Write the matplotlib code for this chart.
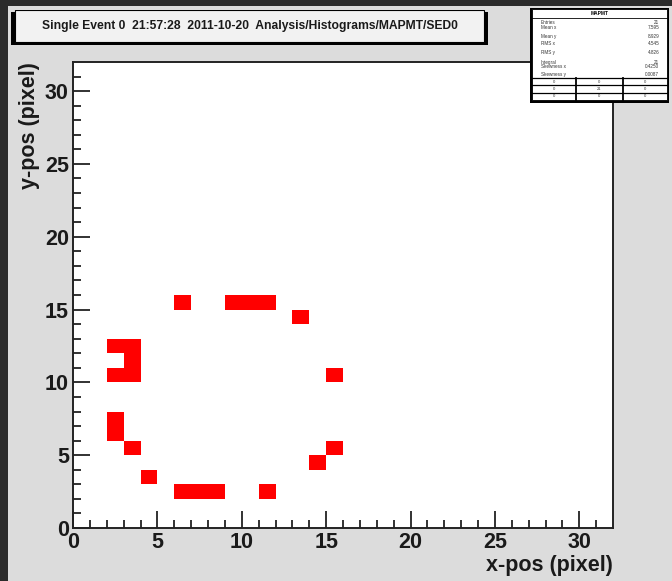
## single event display - MAPMT hit map, ROOT-like canvas

import numpy as np
import matplotlib
matplotlib.use('Agg')
import matplotlib.pyplot as plt
from matplotlib.colors import ListedColormap
from matplotlib.patches import Rectangle

plt.rcParams['font.family'] = ['Liberation Sans', 'DejaVu Sans']

W, H = 672, 581

## hit pixels (bin index x, bin index y)
hit_x = [6, 9, 10, 11, 13, 2, 3, 3, 2, 3, 15, 2, 2, 3, 4, 6, 7, 8, 11, 14, 15]
hit_y = [15, 15, 15, 15, 14, 12, 12, 11, 10, 10, 10, 7, 6, 5, 3, 2, 2, 2, 2, 4, 5]

n_bins = 32
title_text = "Single Event 0  21:57:28  2011-10-20  Analysis/Histograms/MAPMT/SED0"
stat_title = "MAPMT"


def px_rect(x0, y0, x1, y1):
    return [x0 / W, 1 - y1 / H, (x1 - x0) / W, (y1 - y0) / H]


fig = plt.figure(figsize=(W / 100, H / 100), dpi=100, facecolor='#2b2b2b')

## canvas background
bg = fig.add_axes(px_rect(8, 6, W, H))
bg.set_facecolor('#dcdcdc')
bg.set_xticks([])
bg.set_yticks([])
for s in bg.spines.values():
    s.set_visible(False)

## main histogram
ax = fig.add_axes(px_rect(73, 62, 613, 528))
ax.set_facecolor('white')

counts, xe, ye = np.histogram2d(np.array(hit_x) + 0.5, np.array(hit_y) + 0.5,
                                bins=n_bins, range=[[0, n_bins], [0, n_bins]])
masked = np.ma.masked_equal(counts.T, 0)
ax.pcolormesh(xe, ye, masked, cmap=ListedColormap(['#ff0000']), shading='flat')

ax.set_xlim(0, n_bins)
ax.set_ylim(0, n_bins)
ax.set_xticks(range(0, 31, 5))
ax.set_yticks(range(0, 31, 5))
ax.set_xticks(range(0, 32), minor=True)
ax.set_yticks(range(0, 32), minor=True)
ax.tick_params(which='both', direction='in', color='#222222', width=1.3)
ax.tick_params(which='major', length=12, labelsize=15.5, pad=3)
ax.tick_params(which='minor', length=6)
ax.tick_params(axis='x', which='both', top=False)
ax.tick_params(axis='y', which='both', right=False)
for lab in ax.get_xticklabels() + ax.get_yticklabels():
    lab.set_fontweight('bold')
    lab.set_color('#1a1a1a')
for s in ax.spines.values():
    s.set_linewidth(1.4)
    s.set_color('#222222')

fig.text(613 / W, 1 - 566 / H, "x-pos (pixel)", ha='right', va='center',
         fontsize=15.5, fontweight='bold', color='#1a1a1a')
fig.text(30 / W, 1 - 62 / H, "y-pos (pixel)", ha='center', va='top',
         rotation=90, fontsize=15.5, fontweight='bold', color='#1a1a1a')

## title pave with shadow
tb = fig.add_axes(px_rect(11, 10, 488, 45))
tb.set_xlim(0, 1)
tb.set_ylim(0, 1)
tb.axis('off')
tb.add_patch(Rectangle((0, 0), 1, 0.94, facecolor='black', transform=tb.transAxes))
tb.add_patch(Rectangle((0.008, 0.1), 0.984, 0.9, facecolor='#f2f2f2',
                       edgecolor='black', linewidth=0.8, transform=tb.transAxes))
tb.text(0.5, 0.55, title_text, ha='center', va='center', fontsize=8.7,
        fontweight='bold', color='#1a1a1a')

## stats box
sb = fig.add_axes(px_rect(530, 8, 669, 103))
sb.set_xlim(0, 1)
sb.set_ylim(0, 1)
sb.axis('off')
sb.add_patch(Rectangle((0, 0), 1, 1, facecolor='black', transform=sb.transAxes))
sb.add_patch(Rectangle((0.015, 0.035), 0.97, 0.955, facecolor='white',
                       edgecolor='black', linewidth=0.6, transform=sb.transAxes))

xc = np.array(hit_x) + 0.5
yc = np.array(hit_y) + 0.5
stat_rows = [
    ("Entries", "%d" % len(hit_x)),
    ("Mean x", "%.3f" % xc.mean()),
    ("Mean y", "%.3f" % yc.mean()),
    ("RMS x", "%.3f" % xc.std()),
    ("RMS y", "%.3f" % yc.std()),
    ("Integral", "%d" % len(hit_x)),
    ("Skewness x", "%.4f" % (((xc - xc.mean()) ** 3).mean() / xc.std() ** 3)),
    ("Skewness y", "%.4f" % (((yc - yc.mean()) ** 3).mean() / yc.std() ** 3)),
]
sb.plot([0.015, 0.985], [0.9, 0.9], color='black', lw=0.6)
sb.text(0.5, 0.94, stat_title, ha='center', va='center', fontsize=3.5, fontweight='bold')
row_y = [0.85, 0.79, 0.705, 0.63, 0.535, 0.43, 0.38, 0.30]
for (lab, val), yy in zip(stat_rows, row_y):
    sb.text(0.08, yy, lab, ha='left', va='center', fontsize=3.3, color='#333333')
    sb.text(0.93, yy, val, ha='right', va='center', fontsize=3.3, color='#333333')

## under/overflow grid
grid_top, grid_bot = 0.26, 0.035
gys = np.linspace(grid_top, grid_bot, 4)
for gy in gys[:-1]:
    sb.plot([0.015, 0.985], [gy, gy], color='black', lw=0.9)
for gx in [0.33, 0.67]:
    sb.plot([gx, gx], [grid_top, grid_bot], color='black', lw=1.3)
cell_vals = [["0", "0", "0"], ["0", "%d" % len(hit_x), "0"], ["0", "0", "0"]]
for r in range(3):
    for c in range(3):
        sb.text([0.17, 0.5, 0.83][c], (gys[r] + gys[r + 1]) / 2, cell_vals[r][c],
                ha='center', va='center', fontsize=3.0, color='#333333')

fig.savefig('out.png', dpi=100, facecolor=fig.get_facecolor())
